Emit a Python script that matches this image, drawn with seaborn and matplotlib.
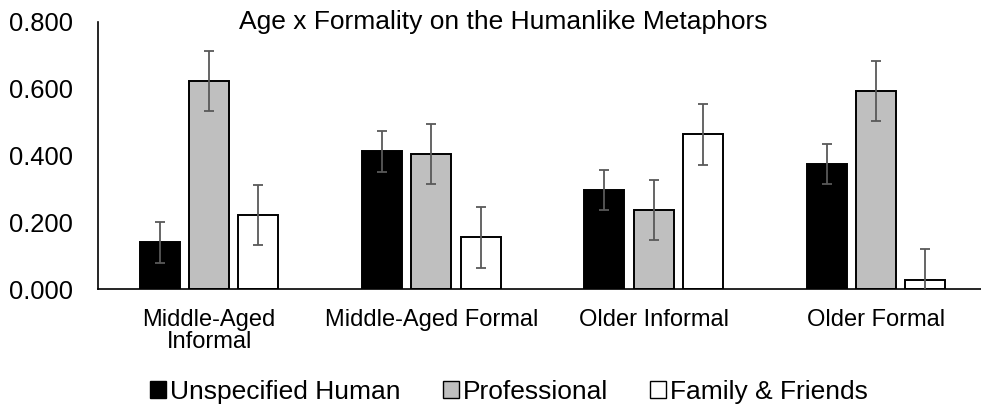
import numpy as np
import pandas as pd
import matplotlib
matplotlib.use("Agg")
import matplotlib.pyplot as plt
import seaborn as sns

groups = ["Middle-Aged\nInformal", "Middle-Aged Formal", "Older Informal", "Older Formal"]
series = ["Unspecified Human", "Professional", "Family & Friends"]
unspecified_human = [0.141, 0.413, 0.297, 0.375]
professional = [0.623, 0.404, 0.237, 0.594]
family_friends = [0.222, 0.156, 0.463, 0.029]
err_unspecified = [0.061, 0.061, 0.061, 0.060]
err_professional = [0.090, 0.090, 0.090, 0.090]
err_family = [0.091, 0.091, 0.091, 0.091]
title = "Age x Formality on the Humanlike Metaphors"

values = [unspecified_human, professional, family_friends]
errors = [err_unspecified, err_professional, err_family]
colors = ["#000000", "#bfbfbf", "#ffffff"]

df = pd.DataFrame({
    "group": np.tile(groups, len(series)),
    "series": np.repeat(series, len(groups)),
    "value": np.concatenate(values),
})

sns.set_style("white")
plt.rcParams["font.family"] = ["Liberation Sans", "DejaVu Sans"]
plt.rcParams["text.color"] = "black"
plt.rcParams["xtick.color"] = "black"
plt.rcParams["ytick.color"] = "black"

W, H = 981, 407
fig = plt.figure(figsize=(W / 100, H / 100), dpi=100)
ax = fig.add_axes([98 / W, (H - 289.3) / H, 889 / W, 267.6 / H])

sns.barplot(data=df, x="group", y="value", hue="series", order=groups, hue_order=series,
            palette=colors, width=0.665, gap=0.19, edgecolor="black", linewidth=1.4,
            errorbar=None, legend=False, saturation=1, ax=ax)

# error bars on top of each bar
for cont, err in zip(ax.containers, errors):
    xs = [b.get_x() + b.get_width() / 2 for b in cont]
    ys = [b.get_height() for b in cont]
    ax.errorbar(xs, ys, yerr=err, fmt="none", ecolor="#595959", elinewidth=1.3,
                capsize=3.6, capthick=1.3, zorder=5)

ax.set_ylim(0, 0.8)
ax.set_xlim(-0.5, 3.5)
ax.set_yticks([0, 0.2, 0.4, 0.6, 0.8])
ax.set_yticklabels([f"{v:.3f}" for v in [0, 0.2, 0.4, 0.6, 0.8]], fontsize=18.4)
ax.tick_params(axis="y", length=0, pad=18)
ax.tick_params(axis="x", length=0, pad=14, labelsize=17)
for lbl in ax.get_xticklabels():
    lbl.set_linespacing(1.0)
ax.set_xlabel("")
ax.set_ylabel("")
for s in ["top", "right"]:
    ax.spines[s].set_visible(False)
ax.spines["left"].set_linewidth(1.2)
ax.spines["bottom"].set_linewidth(1.2)
ax.spines["left"].set_color("black")
ax.spines["bottom"].set_color("black")

fig.text(503 / W, (H - 29) / H, title, ha="center", va="baseline", fontsize=19)

handles = [plt.Rectangle((0, 0), 1, 1, facecolor=c, edgecolor="black", linewidth=1.0) for c in colors]
fig.legend(handles, series, loc="center", bbox_to_anchor=(509 / W, (H - 392) / H),
           ncol=3, frameon=False, fontsize=19, handlelength=0.6, handleheight=0.6,
           handletextpad=0.15, columnspacing=1.6, borderpad=0, borderaxespad=0)

fig.savefig("out.png", dpi=100)
